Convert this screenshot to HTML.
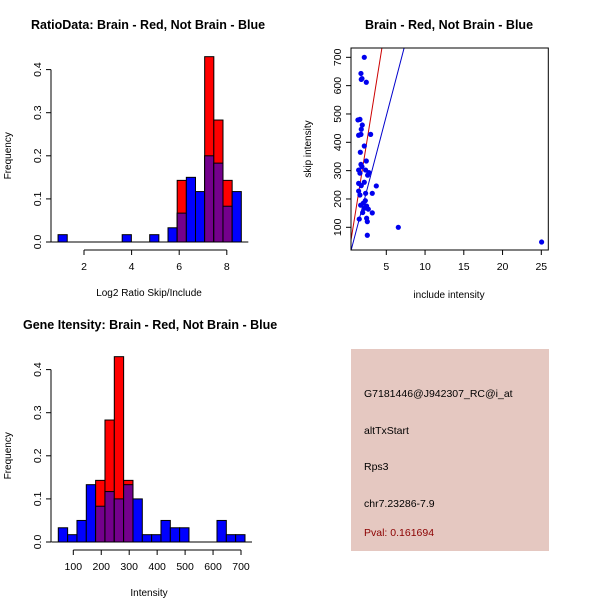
<!DOCTYPE html>
<html><head><meta charset="utf-8"><style>
body{margin:0;background:#fff;font-family:"Liberation Sans",sans-serif;}
svg text{font-family:"Liberation Sans",sans-serif;}
</style></head><body>
<svg id="s" width="600" height="600" xmlns="http://www.w3.org/2000/svg">
<rect width="600" height="600" fill="#fff"/>
<g id="h1"></g>
<g id="sc"></g>
<g id="h2"></g>
<g>
<rect x="351" y="349" width="198" height="202" fill="#e5c8c1"/>
<text x="364" y="397" font-size="10.5">G7181446@J942307_RC@i_at</text>
<text x="364" y="434" font-size="10.5">altTxStart</text>
<text x="364" y="470" font-size="10.5">Rps3</text>
<text x="364" y="507" font-size="10.5">chr7.23286-7.9</text>
<text x="364" y="536" font-size="10.5" fill="#8b0000">Pval: 0.161694</text>
</g>
</svg>
<script>
const NS="http://www.w3.org/2000/svg";
function mk(p,t,a){const e=document.createElementNS(NS,t);for(const k in a)e.setAttribute(k,a[k]);p.appendChild(e);return e;}
// ---- histogram 1 data ----
const h1Start=0.91, h1Width=0.385;
const h1Blue=[0.017,0,0,0,0,0,0,0.017,0,0,0.017,0,0.033,0.067,0.15,0.117,0.2,0.183,0.083,0.117];
const h1Red=[0,0,0,0,0,0,0,0,0,0,0,0,0,0.143,0,0,0.43,0.283,0.143,0];
const h1XTicks=[2,4,6,8];
const yTicks=[0.0,0.1,0.2,0.3,0.4];
// ---- histogram 2 data ----
const h2Start=46.3, h2Width=33.4;
const h2Blue=[0.033,0.017,0.05,0.133,0.083,0.117,0.1,0.133,0.1,0.017,0.017,0.05,0.033,0.033,0,0,0,0.05,0.017,0.017];
const h2Red=[0,0,0,0,0.143,0.283,0.43,0.143,0,0,0,0,0,0,0,0,0,0,0,0];
const h2XTicks=[100,200,300,400,500,600,700];
// ---- scatter data ----
const scX=[2.16,1.73,1.86,1.77,2.42,1.34,1.6,1.9,1.77,1.73,1.43,2.98,2.16,1.65,2.42,1.73,1.86,1.43,2.33,1.6,2.76,2.59,1.43,2.16,1.77,3.71,1.43,2.33,3.19,1.6,2.29,2.03,1.69,2.46,2.16,2.68,1.95,3.19,1.51,2.46,2.55,2.55,6.55,25.04];
const scY=[700,643,625,622,612,479,481,461,446,428,425,428,387,365,334,322,314,302,302,291,293,284,255,259,247,246,228,220,220,214,194,185,178,175,167,164,152,151,129,132,120,72,100,48];
const scXTicks=[5,10,15,20,25];
const scYTicks=[100,200,300,400,500,600,700];
const redLine=[170,-21], blueLine=[104.4,-29];

function hist(g,o){
  const X=v=>o.x0+(v-o.xa)*o.xs, Y=v=>o.y0-v*o.ys;
  let t0=mk(g,'text',{x:o.tx,y:o.ty,'font-size':12.5,'font-weight':'bold'});t0.textContent=o.title;
  
  
  for(let i=0;i<o.blue.length;i++){
    const b=o.blue[i], r=o.red[i], l=X(o.start+i*o.w), rr=X(o.start+(i+1)*o.w);
    if(b>0){const e=mk(g,'rect',{x:l,y:Y(b),width:rr-l,height:Y(0)-Y(b),fill:'#0000ff',stroke:'#000','stroke-width':1});
      
      }
    if(r>0){const e=mk(g,'rect',{x:l,y:Y(r),width:rr-l,height:Y(0)-Y(r),fill:'#ff0000',stroke:'#000','stroke-width':1});
      
      }
    if(b>0&&r>0){const m=Math.min(b,r);const e=mk(g,'rect',{x:l,y:Y(m),width:rr-l,height:Y(0)-Y(m),fill:'#74008c',stroke:'#000','stroke-width':1});
      
      }
  }
  mk(g,'line',{x1:X(o.start)-7,x2:X(o.start+o.blue.length*o.w)+7,y1:Y(0),y2:Y(0),stroke:'#000'});
  const ax=o.yaxX;
  mk(g,'line',{x1:ax,x2:ax,y1:Y(0),y2:Y(0.4),stroke:'#000'});
  yTicks.forEach(t=>{mk(g,'line',{x1:ax-5,x2:ax,y1:Y(t),y2:Y(t),stroke:'#000'});
    const e=mk(g,'text',{x:0,y:0,'font-size':10.5,'text-anchor':'middle',transform:`translate(${ax-10},${Y(t)}) rotate(-90)`});e.textContent=t.toFixed(1);
    
    });
  const ay=o.xaxY;
  mk(g,'line',{x1:X(o.ticks[0]),x2:X(o.ticks[o.ticks.length-1]),y1:ay,y2:ay,stroke:'#000'});
  o.ticks.forEach(t=>{mk(g,'line',{x1:X(t),x2:X(t),y1:ay,y2:ay+5,stroke:'#000'});
    const e=mk(g,'text',{x:X(t),y:ay+20,'font-size':10.5,'text-anchor':'middle'});e.textContent=t;
    
    });
  let e=mk(g,'text',{x:o.xlx,y:ay+46,'font-size':10,'text-anchor':'middle'});e.textContent=o.xlab;
  
  
  e=mk(g,'text',{x:0,y:0,'font-size':10,'text-anchor':'middle',transform:`translate(11,${(Y(0)+Y(0.4))/2}) rotate(-90)`});e.textContent='Frequency';
  
  
}
hist(document.getElementById('h1'),{x0:84,xa:2,xs:23.8,y0:242,ys:431,start:h1Start,w:h1Width,blue:h1Blue,red:h1Red,ticks:h1XTicks,
  title:'RatioData: Brain - Red, Not Brain - Blue',tx:31,ty:29,yaxX:51,xaxY:250,xlab:'Log2 Ratio Skip/Include',xlx:149});
hist(document.getElementById('h2'),{x0:73.3,xa:100,xs:0.2795,y0:542,ys:431,start:h2Start,w:h2Width,blue:h2Blue,red:h2Red,ticks:h2XTicks,
  title:'Gene Itensity: Brain - Red, Not Brain - Blue',tx:23,ty:329,yaxX:51,xaxY:550,xlab:'Intensity',xlx:149});

(function(){
  const g=document.getElementById('sc');
  const X=v=>386.3+(v-5)*7.75, Y=v=>227.3-(v-100)*0.2833;
  const L=351,R=548.3,T=48,B=250;
  let e=mk(g,'text',{x:449,y:29,'font-size':12.5,'font-weight':'bold','text-anchor':'middle'});e.textContent='Brain - Red, Not Brain - Blue';
  
  
  const cp=mk(g,'clipPath',{id:'cp'});mk(cp,'rect',{x:L,y:T,width:R-L,height:B-T});
  const pg=mk(g,'g',{'clip-path':'url(#cp)'});
  [[redLine,'#cc0000'],[blueLine,'#0000cc']].forEach(([ln,c])=>{
    const x1=0,x2=10;const e=mk(pg,'line',{x1:X(x1),y1:Y(ln[0]*x1+ln[1]),x2:X(x2),y2:Y(ln[0]*x2+ln[1]),stroke:c,'stroke-width':1});
    
    });
  for(let i=0;i<scX.length;i++){const e=mk(pg,'circle',{cx:X(scX[i]),cy:Y(scY[i]),r:2.6,fill:'#0000ee'});
    
    }
  mk(g,'rect',{x:L,y:T,width:R-L,height:B-T,fill:'none',stroke:'#000'});
  scXTicks.forEach(t=>{mk(g,'line',{x1:X(t),x2:X(t),y1:B,y2:B+5,stroke:'#000'});
    const e=mk(g,'text',{x:X(t),y:B+20,'font-size':10.5,'text-anchor':'middle'});e.textContent=t;
    
    });
  scYTicks.forEach(t=>{mk(g,'line',{x1:L-5,x2:L,y1:Y(t),y2:Y(t),stroke:'#000'});
    const e=mk(g,'text',{x:0,y:0,'font-size':10.5,'text-anchor':'middle',transform:`translate(${L-10},${Y(t)}) rotate(-90)`});e.textContent=t;
    
    });
  e=mk(g,'text',{x:449,y:298,'font-size':10,'text-anchor':'middle'});e.textContent='include intensity';
  
  
  e=mk(g,'text',{x:0,y:0,'font-size':10,'text-anchor':'middle',transform:'translate(311,149) rotate(-90)'});e.textContent='skip intensity';
  
  
})();
</script>
</body></html>
